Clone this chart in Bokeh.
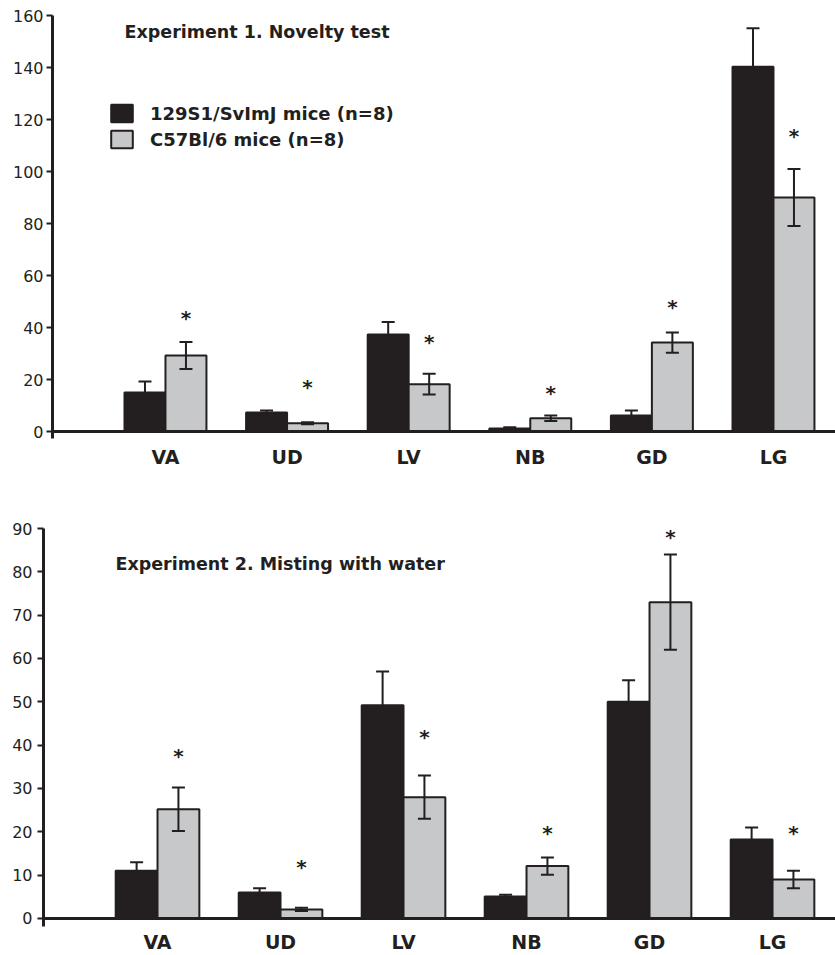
from bokeh.plotting import figure
from bokeh.models import (Range1d, FixedTicker, Span, Whisker, TeeHead, ColumnDataSource,
                          Label, Legend, LegendItem)
from bokeh.layouts import column
from bokeh.embed import file_html
from bokeh.resources import INLINE
from bokeh.core.properties import value

# ---------------- data ----------------
categories = ["VA", "UD", "LV", "NB", "GD", "LG"]
series_names = ["129S1/SvImJ mice (n=8)", "C57Bl/6 mice (n=8)"]

exp1_129 = [15.0, 7.3, 37.3, 1.2, 6.2, 140.3]
exp1_129_sem = [4.2, 0.8, 4.8, 0.4, 1.9, 14.8]
exp1_b6 = [29.2, 3.2, 18.2, 5.1, 34.2, 90.0]
exp1_b6_sem = [5.2, 0.4, 4.0, 1.1, 3.9, 11.0]
exp1_sig_y = [43.8, 17.0, 34.6, 15.0, 48.0, 113.8]

exp2_129 = [11.0, 6.0, 49.2, 5.1, 50.0, 18.2]
exp2_129_sem = [2.0, 1.0, 7.8, 0.4, 5.0, 2.8]
exp2_b6 = [25.2, 2.1, 28.0, 12.1, 73.0, 9.0]
exp2_b6_sem = [5.0, 0.35, 5.0, 2.0, 11.0, 2.0]
exp2_sig_y = [37.6, 11.8, 41.8, 19.8, 88.0, 19.8]

titles = ["Experiment 1. Novelty test", "Experiment 2. Misting with water"]

INK = "#231f20"
GREY = "#c7c8ca"
FONT = "DejaVu Sans"


def panel(a, a_err, b, b_err, sig, title, yticks, yrange, xrange, width, height,
          borders, bar_w, title_xy, legend_loc=None, tick_standoff=3, cat_standoff=8):
    left, top, bottom = borders
    p = figure(width=width, height=height, output_backend="svg", toolbar_location=None,
               x_range=Range1d(*xrange), y_range=Range1d(*yrange),
               min_border_left=left, min_border_right=0, min_border_top=top,
               min_border_bottom=bottom, frame_align=False)
    p.outline_line_color = None
    p.xgrid.visible = False
    p.ygrid.visible = False
    p.background_fill_color = "white"
    p.border_fill_color = "white"

    idx = list(range(1, len(categories) + 1))
    xa = [i - bar_w / 2 for i in idx]
    xb = [i + bar_w / 2 for i in idx]

    ra = p.vbar(x=xa, top=a, bottom=0, width=bar_w, fill_color=INK,
                line_color=INK, line_width=2)
    rb = p.vbar(x=xb, top=b, bottom=0, width=bar_w, fill_color=GREY,
                line_color=INK, line_width=2)

    for xs, vals, errs in ((xa, a, a_err), (xb, b, b_err)):
        src = ColumnDataSource(dict(base=xs,
                                    upper=[v + e for v, e in zip(vals, errs)],
                                    lower=[v - e for v, e in zip(vals, errs)]))
        w = Whisker(source=src, base="base", upper="upper", lower="lower",
                    line_color=INK, line_width=2, level="overlay",
                    upper_head=TeeHead(size=13, line_width=2, line_color=INK),
                    lower_head=TeeHead(size=13, line_width=2, line_color=INK))
        p.add_layout(w)

    p.text(x=xb, y=sig, text=["*"] * len(xb), text_font=value(FONT),
           text_font_style="bold", text_font_size="20px", text_align="center",
           text_baseline="middle", text_color=INK, y_offset=0)

    p.add_layout(Span(location=0, dimension="width", line_color=INK, line_width=3))

    # y axis
    ya = p.yaxis[0]
    ya.ticker = FixedTicker(ticks=yticks)
    ya.axis_line_color = INK
    ya.axis_line_width = 3
    ya.major_tick_line_color = INK
    ya.major_tick_line_width = 2
    ya.major_tick_out = 6
    ya.major_tick_in = 0
    ya.minor_tick_line_color = None
    ya.major_label_text_font = FONT
    ya.major_label_text_font_size = "16px"
    ya.major_label_text_color = INK
    ya.major_label_standoff = tick_standoff

    # x axis (category labels only)
    xa_ax = p.xaxis[0]
    xa_ax.ticker = FixedTicker(ticks=idx)
    xa_ax.major_label_overrides = {i: c for i, c in zip(idx, categories)}
    xa_ax.axis_line_color = None
    xa_ax.major_tick_line_color = None
    xa_ax.minor_tick_line_color = None
    xa_ax.major_tick_out = 0
    xa_ax.major_tick_in = 0
    xa_ax.major_label_standoff = cat_standoff
    xa_ax.major_label_text_font = FONT
    xa_ax.major_label_text_font_size = "19px"
    xa_ax.major_label_text_font_style = "bold"
    xa_ax.major_label_text_color = INK

    p.add_layout(Label(x=title_xy[0], y=title_xy[1], text=title, text_font=FONT,
                       text_font_size="17.5px", text_font_style="bold",
                       text_baseline="middle", text_color=INK))

    if legend_loc is not None:
        lg = Legend(items=[LegendItem(label=series_names[0], renderers=[ra]),
                           LegendItem(label=series_names[1], renderers=[rb])],
                    location=legend_loc, orientation="vertical",
                    glyph_width=27, glyph_height=22, label_height=22,
                    spacing=4, padding=0, margin=0, border_line_color=None,
                    background_fill_alpha=0, label_text_font=FONT,
                    label_text_font_size="18px", label_text_font_style="bold",
                    label_text_color=INK, label_standoff=15)
        p.add_layout(lg)
    return p


p1 = panel(exp1_129, exp1_129_sem, exp1_b6, exp1_b6_sem, exp1_sig_y, titles[0],
           yticks=list(range(0, 161, 20)), yrange=(-2.69, 160), xrange=(0.071, 6.51),
           width=835, height=490, borders=(52, 15, 52), bar_w=0.337,
           title_xy=(0.663, 153.5), legend_loc=(56, 288), tick_standoff=3,
           cat_standoff=7)

p2 = panel(exp2_129, exp2_129_sem, exp2_b6, exp2_b6_sem, exp2_sig_y, titles[1],
           yticks=list(range(0, 91, 10)), yrange=(-1.85, 90), xrange=(0.073, 6.512),
           width=835, height=465, borders=(43, 38, 29), bar_w=0.34,
           title_xy=(0.658, 81.9), legend_loc=None, tick_standoff=5,
           cat_standoff=4)

layout = column(p1, p2, spacing=0)
open("out.html", "w").write(file_html(layout, INLINE))
